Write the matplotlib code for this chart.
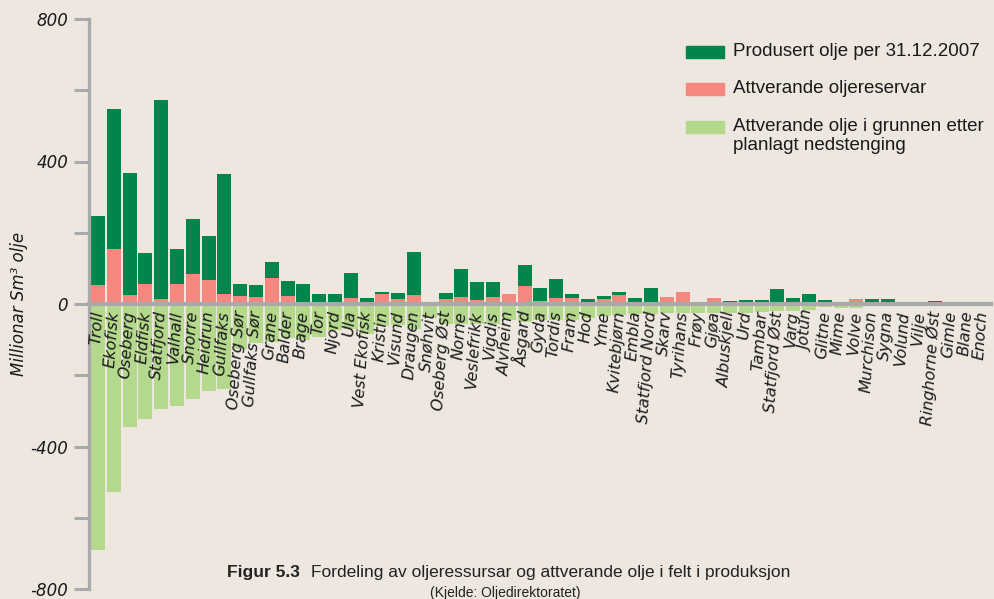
import matplotlib
matplotlib.use("Agg")
import matplotlib.pyplot as plt
from matplotlib.patches import Rectangle
import numpy as np

fields = ["Troll", "Ekofisk", "Oseberg", "Eldfisk", "Statfjord", "Valhall", "Snorre",
          "Heidrun", "Gullfaks", "Oseberg Sør", "Gullfaks Sør", "Grane", "Balder", "Brage",
          "Tor", "Njord", "Ula", "Vest Ekofisk", "Kristin", "Visund", "Draugen", "Snøhvit",
          "Oseberg Øst", "Norne", "Veslefrikk", "Vigdis", "Alvheim", "Åsgard", "Gyda",
          "Tordis", "Fram", "Hod", "Yme", "Kvitebjørn", "Embla", "Statfjord Nord", "Skarv",
          "Tyrihans", "Frøy", "Gjøa", "Albuskjell", "Urd", "Tambar", "Statfjord Øst", "Varg",
          "Jotun", "Glitne", "Mime", "Volve", "Murchison", "Sygna", "Volund", "Vilje",
          "Ringhorne Øst", "Gimle", "Blane", "Enoch"]

# Attverande oljereservar (mill. Sm3)
reserves = [53, 154, 25, 56, 14, 56, 84, 67, 28, 22, 20, 73, 22, 0,
            0, 0, 17, 0, 28, 14, 25, 0,
            14, 20, 11, 20, 28, 50, 8,
            17, 17, 3, 14, 25, 0, 3, 20,
            34, 0, 17, 0, 4, 2, 3, 5,
            0, 0, 0, 14, 0, 0, 7, 7,
            7, 0, 0, 0]

# Produsert olje per 31.12.2007 (mill. Sm3)
produced = [193, 394, 344, 87, 559, 98, 156, 123, 338, 34, 33, 44, 42, 56,
            28, 28, 70, 17, 6, 17, 120, 0,
            17, 78, 51, 42, 0, 59, 37,
            53, 11, 11, 8, 9, 17, 42, 0,
            0, 5, 0, 8, 8, 10, 39, 12,
            28, 10, 0, 0, 15, 13, 0, 0,
            2, 4, 0, 0]

# Attverande olje i grunnen etter planlagt nedstenging (negative)
remaining = [-691, -529, -344, -322, -294, -285, -268, -243, -238, -125, -110, -106, -95, -100,
             -92, -72, -70, -84, -61, -58, -70, -40,
             -55, -55, -56, -55, -45, -50, -45,
             -46, -45, -38, -34, -30, -29, -27, -25,
             -26, -26, -26, -25, -24, -23, -21, -20,
             -17, -8, -12, -12, -3, -3, -2, -2,
             -2, -2, -2, -2]

yticks_major = [-800, -400, 0, 400, 800]
yticks_minor = [-600, -200, 200, 600]

legend_labels = ["Produsert olje per 31.12.2007",
                 "Attverande oljereservar",
                 "Attverande olje i grunnen etter\nplanlagt nedstenging"]

BG = "#ede7e0"
DARK = "#00854a"
PINK = "#f5877f"
LIGHT = "#b4d88c"
GRAY = "#a9a9a9"
TXT = "#1a1a1a"

W, H = 995, 599
fig = plt.figure(figsize=(W / 100, H / 100), dpi=100, facecolor=BG)
ax = fig.add_axes([89 / W, 1 - 589 / H, 902 / W, (589 - 19) / H])
ax.set_facecolor(BG)
ax.set_axisbelow(False)

x = np.arange(len(fields))
bw = 0.886
ax.bar(x, remaining, width=bw, color=LIGHT, zorder=1)
ax.bar(x, reserves, width=bw, color=PINK, zorder=1)
ax.bar(x, produced, width=bw, bottom=reserves, color=DARK, zorder=1)

ax.set_xlim(-0.57, len(fields) - 0.48)
ax.set_ylim(-800, 800)

for s in ["top", "right"]:
    ax.spines[s].set_visible(False)
ax.spines["left"].set_color(GRAY)
ax.spines["left"].set_linewidth(2.4)
ax.spines["bottom"].set_position(("data", 0))
ax.spines["bottom"].set_color(GRAY)
ax.spines["bottom"].set_linewidth(3)

ax.set_yticks(yticks_major)
ax.set_yticklabels([str(v) for v in yticks_major], fontstyle="italic", fontsize=12, color=TXT)
ax.set_yticks(yticks_minor, minor=True)
ax.tick_params(axis="y", which="both", length=11, width=2.2, color=GRAY, pad=4)

ax.set_xticks(x)
ax.set_xticklabels(fields, rotation=86, ha="right", va="center", rotation_mode="anchor",
                   fontstyle="italic", fontsize=11.5, color=TXT)
ax.tick_params(axis="x", length=0, pad=5)
for t in ax.get_xticklabels():
    t.set_zorder(5)

ax.set_ylabel("Millionar Sm³ olje", fontstyle="italic", fontsize=12, color=TXT)
ax.yaxis.set_label_coords(-(89 - 28) / 902, 0.5)


def fx(px):
    return px / W


def fy(py):
    return 1 - py / H


colors = [DARK, PINK, LIGHT]
ys = [52, 89, 127]
for c, yy, lab in zip(colors, ys, legend_labels):
    fig.patches.append(Rectangle((fx(686), fy(yy + 6)), fx(724) - fx(686), (12) / H,
                                 transform=fig.transFigure, color=c, figure=fig))
    fig.text(fx(733), fy(yy - 9), lab, ha="left", va="top", fontsize=13.5,
             family="Liberation Sans", color=TXT, linespacing=1.12)

fig.text(fx(300), fy(573), "Figur 5.3", ha="right", va="center", fontsize=12.5,
         fontweight="bold", family="Liberation Sans", color="#222222")
fig.text(fx(790), fy(573), "Fordeling av oljeressursar og attverande olje i felt i produksjon",
         ha="right", va="center", fontsize=12.5,
         family="Liberation Sans", color="#222222")
fig.text(fx(505), fy(586), "(Kjelde: Oljedirektoratet)", ha="center", va="top", fontsize=10,
         family="Liberation Sans", color="#222222")

fig.savefig("out.png", dpi=100, facecolor=BG)
